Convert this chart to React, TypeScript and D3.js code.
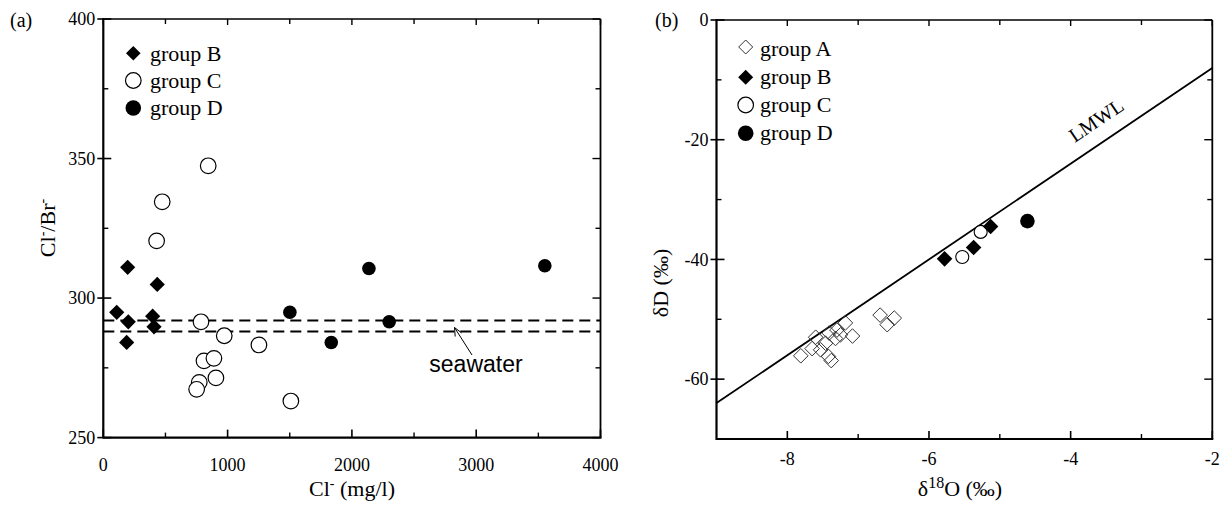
import React from "react";
import * as d3 from "d3";

// ---------- Panel (a) data: Cl- (mg/l) vs Cl-/Br- ----------
const aGroupB_cl = [108, 196, 201, 188, 434, 397, 408];
const aGroupB_ratio = [294.9, 311.0, 291.5, 284.1, 304.9, 293.5, 289.7];
const aGroupC_cl = [844, 474, 429, 786, 973, 1252, 810, 890, 906, 772, 751, 1509];
const aGroupC_ratio = [347.4, 334.5, 320.5, 291.5, 286.5, 283.2, 277.5, 278.4, 271.4, 269.8, 267.3, 263.1];
const aGroupD_cl = [1501, 1834, 2137, 2300, 3552];
const aGroupD_ratio = [294.9, 284.1, 310.6, 291.5, 311.6];
const seawaterLines = [292, 288];
const aXTicks = [0, 1000, 2000, 3000, 4000];
const aXMinor = [500, 1500, 2500, 3500];
const aYTicks = [250, 300, 350, 400];
const aYMinor = [275, 325, 375];

// ---------- Panel (b) data: d18O vs dD ----------
const bGroupA_o = [-7.81, -7.65, -7.6, -7.53, -7.46, -7.42, -7.38, -7.41, -7.32, -7.3, -7.18, -7.25, -7.08, -6.69, -6.49, -6.59];
const bGroupA_d = [-56.1, -54.9, -53.0, -55.1, -54.0, -56.2, -56.9, -52.3, -53.2, -51.8, -50.6, -52.6, -52.8, -49.3, -49.8, -50.9];
const bGroupB_o = [-5.78, -5.37, -5.13];
const bGroupB_d = [-39.9, -38.0, -34.5];
const bGroupC_o = [-5.53, -5.27];
const bGroupC_d = [-39.6, -35.4];
const bGroupD_o = [-4.61];
const bGroupD_d = [-33.6];
const lmwlSlope = 8;
const lmwlIntercept = 8;
const bXTicks = [-8, -6, -4, -2];
const bXMinor = [-9, -7, -5, -3];
const bYTicks = [0, -20, -40, -60];
const bYMinor = [-10, -30, -50];

const SERIF = "'Liberation Serif', 'Times New Roman', serif";
const SANS = "'Liberation Sans', Arial, sans-serif";

function diamond(cx: number, cy: number, r: number) {
  return `M${cx},${cy - r}L${cx + r},${cy}L${cx},${cy + r}L${cx - r},${cy}Z`;
}

function Frame({ x, y, ticksX, minorX, ticksY, minorY, labelX, labelY, xLabelDy }: any) {
  const [x0, x1] = x.range();
  const [y0, y1] = y.range(); // y0 bottom, y1 top
  const els: any[] = [];
  ticksX.forEach((t: number, i: number) => {
    const px = x(t);
    els.push(<line key={"bx" + i} x1={px} x2={px} y1={y0} y2={y0 - 8} stroke="#000" strokeWidth={1.6} />);
    els.push(<line key={"tx" + i} x1={px} x2={px} y1={y1} y2={y1 + 6} stroke="#000" strokeWidth={1.4} />);
    els.push(
      <text key={"lx" + i} x={px} y={y0 + xLabelDy} textAnchor="middle" fontFamily={SERIF} fontSize={18} fill="#000">
        {labelX(t)}
      </text>
    );
  });
  minorX.forEach((t: number, i: number) => {
    const px = x(t);
    if (px <= x0 + 1) return;
    els.push(<line key={"bmx" + i} x1={px} x2={px} y1={y0} y2={y0 - 5} stroke="#000" strokeWidth={1.4} />);
    els.push(<line key={"tmx" + i} x1={px} x2={px} y1={y1} y2={y1 + 5} stroke="#000" strokeWidth={1.4} />);
  });
  ticksY.forEach((t: number, i: number) => {
    const py = y(t);
    els.push(<line key={"ly" + i} x1={x0 - 6} x2={x0 + 8} y1={py} y2={py} stroke="#000" strokeWidth={1.6} />);
    els.push(<line key={"ry" + i} x1={x1} x2={x1 - 8} y1={py} y2={py} stroke="#000" strokeWidth={1.4} />);
    els.push(
      <text key={"lyl" + i} x={x0 - 8} y={py} dy="0.34em" textAnchor="end" fontFamily={SERIF} fontSize={18} fill="#000">
        {labelY(t)}
      </text>
    );
  });
  minorY.forEach((t: number, i: number) => {
    const py = y(t);
    els.push(<line key={"lmy" + i} x1={x0} x2={x0 + 5} y1={py} y2={py} stroke="#000" strokeWidth={1.4} />);
    els.push(<line key={"rmy" + i} x1={x1} x2={x1 - 5} y1={py} y2={py} stroke="#000" strokeWidth={1.4} />);
  });
  return (
    <g>
      <line x1={x0} x2={x1} y1={y1} y2={y1} stroke="#000" strokeWidth={1.6} />
      <line x1={x1} x2={x1} y1={y1} y2={y0} stroke="#000" strokeWidth={1.8} />
      <line x1={x0} x2={x1 + 1} y1={y0} y2={y0} stroke="#000" strokeWidth={2.2} />
      <line x1={x0} x2={x0} y1={y1 - 1} y2={y0 + 1} stroke="#000" strokeWidth={2.2} />
      {els}
    </g>
  );
}

export default function App() {
  // Panel (a) scales
  const ax = d3.scaleLinear().domain([0, 4000]).range([103.3, 600.5]);
  const ay = d3.scaleLinear().domain([250, 400]).range([437.6, 19]);
  // Panel (b) scales
  const bx = d3.scaleLinear().domain([-9, -2]).range([716.5, 1212.3]);
  const by = d3.scaleLinear().domain([-70, 0]).range([439, 20]);

  const aB = d3.zip(aGroupB_cl, aGroupB_ratio) as [number, number][];
  const aC = d3.zip(aGroupC_cl, aGroupC_ratio) as [number, number][];
  const aD = d3.zip(aGroupD_cl, aGroupD_ratio) as [number, number][];
  const bA = d3.zip(bGroupA_o, bGroupA_d) as [number, number][];
  const bB = d3.zip(bGroupB_o, bGroupB_d) as [number, number][];
  const bC = d3.zip(bGroupC_o, bGroupC_d) as [number, number][];
  const bD = d3.zip(bGroupD_o, bGroupD_d) as [number, number][];

  const lmwl = d3
    .line<number>()
    .x((o) => bx(o))
    .y((o) => by(lmwlSlope * o + lmwlIntercept));
  const lmwlX = [-9, -2];

  // LMWL label angle from scales
  const ang =
    (Math.atan2(by(lmwlSlope * -3 + lmwlIntercept) - by(lmwlSlope * -4 + lmwlIntercept), bx(-3) - bx(-4)) * 180) /
    Math.PI;

  return (
    <svg width={1225} height={505} style={{ display: "block", position: "absolute", left: 0, top: 0 }}>
      <rect x={0} y={0} width={1225} height={505} fill="#fff" />
      {/* ---------- Panel (a) ---------- */}
      <text x={10} y={27} fontFamily={SERIF} fontSize={20} fill="#000">(a)</text>
      {seawaterLines.map((v, i) => (
        <line key={"sw" + i} x1={ax(0)} x2={ax(4000)} y1={ay(v)} y2={ay(v)} stroke="#000" strokeWidth={2} strokeDasharray="11,6" />
      ))}
      {aC.map(([cx, cy], i) => (
        <circle key={"ac" + i} cx={ax(cx)} cy={ay(cy)} r={7.8} fill="#fff" stroke="#000" strokeWidth={1.2} />
      ))}
      {aB.map(([cx, cy], i) => (
        <path key={"ab" + i} d={diamond(ax(cx), ay(cy), 7.6)} fill="#000" />
      ))}
      {aD.map(([cx, cy], i) => (
        <circle key={"ad" + i} cx={ax(cx)} cy={ay(cy)} r={6.8} fill="#000" />
      ))}
      <Frame
        x={ax}
        y={ay}
        ticksX={aXTicks}
        minorX={aXMinor}
        ticksY={aYTicks}
        minorY={aYMinor}
        labelX={(t: number) => String(t)}
        labelY={(t: number) => String(t)}
        xLabelDy={33}
      />
      {/* seawater annotation */}
      <line x1={472} y1={355} x2={454.5} y2={327.5} stroke="#000" strokeWidth={1} />
      <path d="M454.5,327.5 L455.2,336.5 M454.5,327.5 L461.5,332.8" stroke="#000" strokeWidth={1} fill="none" />
      <text x={476} y={372} textAnchor="middle" fontFamily={SANS} fontSize={23} fill="#000">seawater</text>
      {/* legend (a) */}
      <path d={diamond(133.3, 53.3, 7.3)} fill="#000" />
      <text x={150} y={61} fontFamily={SERIF} fontSize={22} fill="#000">group B</text>
      <circle cx={133.3} cy={80.5} r={7.8} fill="#fff" stroke="#000" strokeWidth={1.2} />
      <text x={150} y={88} fontFamily={SERIF} fontSize={22} fill="#000">group C</text>
      <circle cx={133.3} cy={108} r={7.8} fill="#000" />
      <text x={150} y={115} fontFamily={SERIF} fontSize={22} fill="#000">group D</text>
      {/* axis labels (a) */}
      <text x={352} y={496} textAnchor="middle" fontFamily={SERIF} fontSize={22} fill="#000">
        Cl<tspan fontSize={14} dy={-8}>-</tspan>
        <tspan dy={8}> (mg/l)</tspan>
      </text>
      <text transform="translate(55,228) rotate(-90)" textAnchor="middle" fontFamily={SERIF} fontSize={22} fill="#000">
        Cl<tspan fontSize={14} dy={-8}>-</tspan>
        <tspan dy={8}>/Br</tspan>
        <tspan fontSize={14} dy={-8}>-</tspan>
      </text>

      {/* ---------- Panel (b) ---------- */}
      <text x={655} y={27} fontFamily={SERIF} fontSize={20} fill="#000">(b)</text>
      <defs>
        <clipPath id="clipb">
          <rect x={bx(-9)} y={by(0)} width={bx(-2) - bx(-9)} height={by(-70) - by(0)} />
        </clipPath>
      </defs>
      <path d={lmwl(lmwlX) || ""} stroke="#000" strokeWidth={1.8} fill="none" clipPath="url(#clipb)" />
      <text
        transform={`translate(1100,126) rotate(${ang})`}
        textAnchor="middle"
        fontFamily={SERIF}
        fontSize={20}
        fill="#000"
      >
        LMWL
      </text>
      {bA.map(([o, d], i) => (
        <path key={"ba" + i} d={diamond(bx(o), by(d), 7.3)} fill="none" stroke="#333" strokeWidth={1} />
      ))}
      {bC.map(([o, d], i) => (
        <circle key={"bc" + i} cx={bx(o)} cy={by(d)} r={6.5} fill="#fff" stroke="#000" strokeWidth={1.1} />
      ))}
      {bB.map(([o, d], i) => (
        <path key={"bb" + i} d={diamond(bx(o), by(d), 7.8)} fill="#000" />
      ))}
      {bD.map(([o, d], i) => (
        <circle key={"bd" + i} cx={bx(o)} cy={by(d)} r={7.3} fill="#000" />
      ))}
      <Frame
        x={bx}
        y={by}
        ticksX={bXTicks}
        minorX={bXMinor}
        ticksY={bYTicks}
        minorY={bYMinor}
        labelX={(t: number) => String(t)}
        labelY={(t: number) => String(t)}
        xLabelDy={26}
      />
      {/* legend (b) */}
      <path d={diamond(745.7, 47, 7)} fill="#fff" stroke="#333" strokeWidth={1} />
      <text x={760} y={56} fontFamily={SERIF} fontSize={22} fill="#000">group A</text>
      <path d={diamond(745.7, 77.3, 7.5)} fill="#000" />
      <text x={760} y={84} fontFamily={SERIF} fontSize={22} fill="#000">group B</text>
      <circle cx={745.7} cy={105} r={7.8} fill="#fff" stroke="#000" strokeWidth={1.2} />
      <text x={760} y={112} fontFamily={SERIF} fontSize={22} fill="#000">group C</text>
      <circle cx={745.7} cy={133.3} r={7.8} fill="#000" />
      <text x={760} y={140} fontFamily={SERIF} fontSize={22} fill="#000">group D</text>
      {/* axis labels (b) */}
      <text x={960} y={496} textAnchor="middle" fontFamily={SERIF} fontSize={22} fill="#000">
        δ<tspan fontSize={16} dy={-8}>18</tspan>
        <tspan dy={8}>O (‰)</tspan>
      </text>
      <text transform="translate(668,283) rotate(-90)" textAnchor="middle" fontFamily={SERIF} fontSize={22} fill="#000">
        δD (‰)
      </text>
    </svg>
  );
}
